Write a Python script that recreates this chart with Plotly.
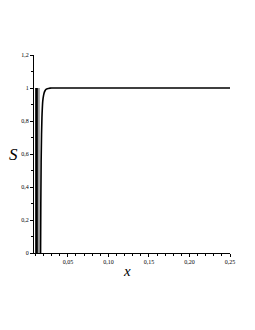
import plotly.graph_objects as go

# Data
osc_x = [0.0107, 0.0107, None, 0.0113, 0.0113, None, 0.0119, 0.0119]
osc_y = [0, 1, None, 0, 1, None, 0, 1]
gray_x = [0.0139, 0.0139, None, 0.0143, 0.0143]
gray_y = [0, 1, None, 0, 1]
curve_x = [0.0163, 0.0166, 0.0170, 0.0175, 0.0180, 0.0185, 0.0190, 0.0200, 0.0210,
           0.0220, 0.0230, 0.0245, 0.0260, 0.0280, 0.0300, 0.0350, 0.0500, 0.1000,
           0.1500, 0.2000, 0.2500]
curve_y = [0.0, 0.30, 0.55, 0.72, 0.82, 0.88, 0.92, 0.955, 0.975,
           0.985, 0.991, 0.995, 0.997, 0.999, 1.0, 1.0, 1.0, 1.0,
           1.0, 1.0, 1.0]

x_tickvals = [0.05, 0.10, 0.15, 0.20, 0.25]
x_ticktext = ["0,05", "0,10", "0,15", "0,20", "0,25"]
y_tickvals = [0, 0.2, 0.4, 0.6, 0.8, 1.0, 1.2]
y_ticktext = ["0", "0,2", "0,4", "0,6", "0,8", "1", "1,2"]

fig = go.Figure()
fig.add_trace(go.Scatter(x=gray_x, y=gray_y, mode="lines",
                         line=dict(color="#9a9a9a", width=1.5), connectgaps=False))
fig.add_trace(go.Scatter(x=osc_x, y=osc_y, mode="lines",
                         line=dict(color="black", width=1.6), connectgaps=False))
fig.add_trace(go.Scatter(x=curve_x, y=curve_y, mode="lines",
                         line=dict(color="black", width=1.6, shape="spline")))

font = dict(family="Liberation Serif, Times New Roman, serif", size=6, color="black")
fig.update_layout(
    width=239, height=314,
    margin=dict(l=26, r=13, t=47, b=69),
    paper_bgcolor="white", plot_bgcolor="white",
    showlegend=False,
    font=font,
    xaxis=dict(range=[0.0082, 0.25], tickvals=x_tickvals, ticktext=x_ticktext,
               showgrid=False, zeroline=False, showline=True, linecolor="black",
               linewidth=1, ticks="outside", ticklen=3, tickcolor="black",
               minor=dict(dtick=0.01, tick0=0, ticks="outside", ticklen=2, tickcolor="black"),
               tickfont=font),
    yaxis=dict(range=[0, 1.2], tickvals=y_tickvals, ticktext=y_ticktext,
               showgrid=False, zeroline=False, showline=True, linecolor="black",
               linewidth=1, ticks="outside", ticklen=3, tickcolor="black",
               minor=dict(dtick=0.1, tick0=0, ticks="outside", ticklen=2, tickcolor="black"),
               tickfont=font),
)
fig.add_annotation(text="<i>S</i>", xref="paper", yref="paper", x=-0.105, y=0.5,
                   showarrow=False, xanchor="center", yanchor="middle",
                   font=dict(family="Liberation Serif, serif", size=17, color="black"))
fig.add_annotation(text="<i>x</i>", xref="paper", yref="paper", x=0.475, y=-0.09,
                   showarrow=False, xanchor="center", yanchor="middle",
                   font=dict(family="Liberation Serif, serif", size=15, color="black"))

fig.write_html("out.html")
